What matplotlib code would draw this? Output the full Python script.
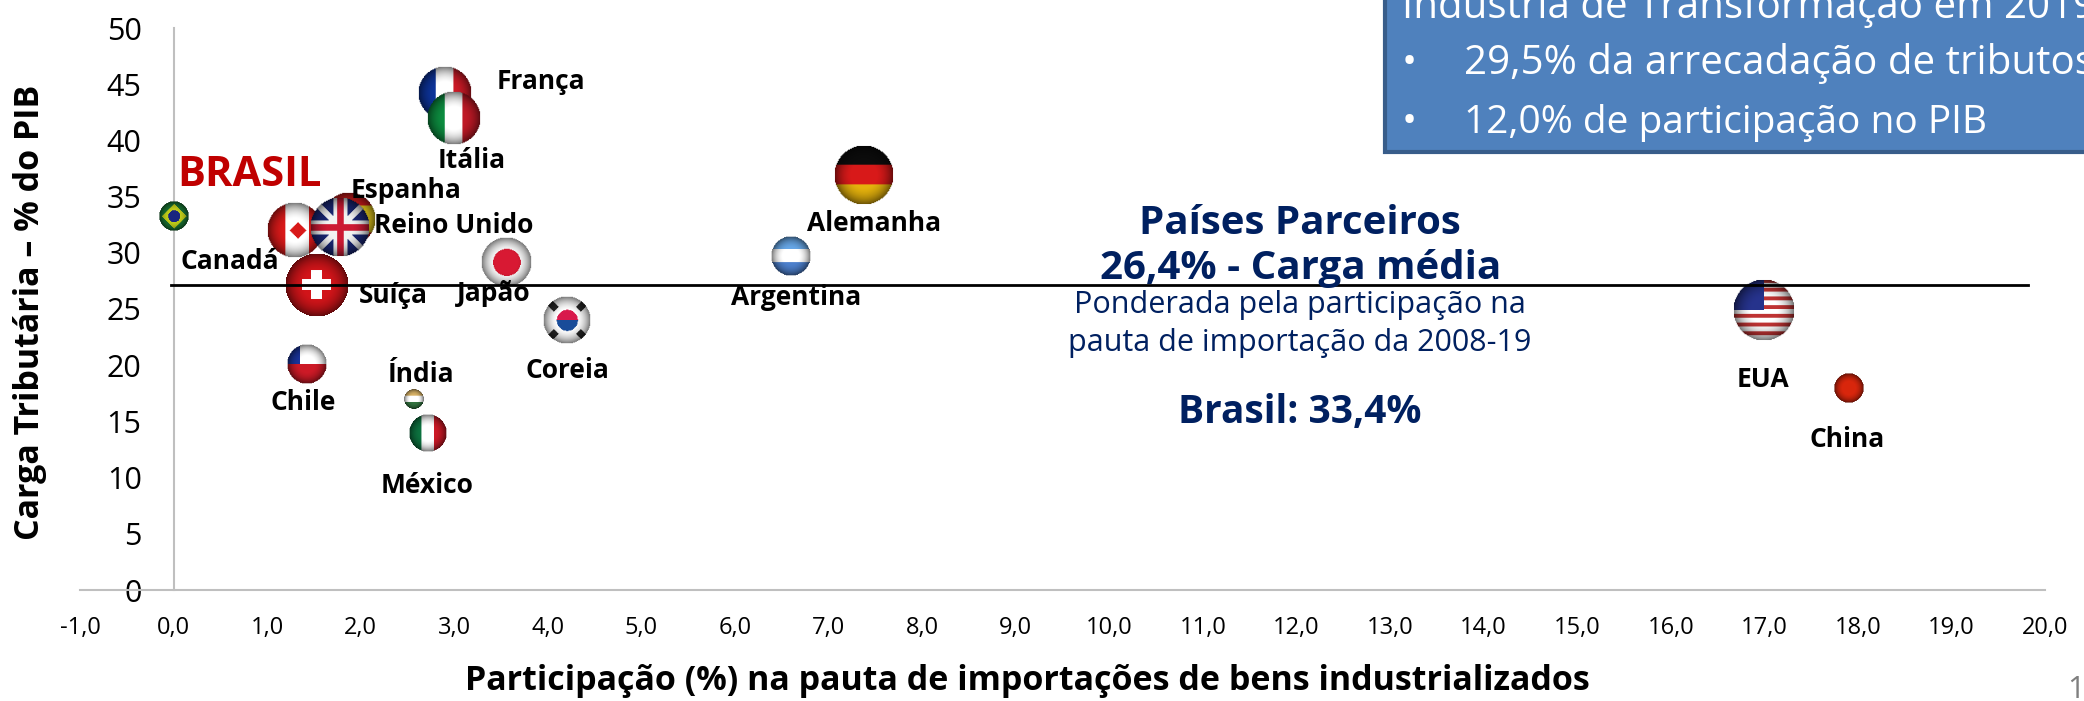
import numpy as np
import matplotlib
matplotlib.use('Agg')
import matplotlib.pyplot as plt
from matplotlib.offsetbox import OffsetImage, AnnotationBbox
from matplotlib.patches import Rectangle

FONT = 'Open Sans'
NAVY = '#002060'

countries = ['Brasil', 'França', 'Itália', 'Canadá', 'Espanha', 'Reino Unido', 'Suíça', 'Japão', 'Coreia',
             'Chile', 'Índia', 'México', 'Alemanha', 'Argentina', 'EUA', 'China']
share = [0.0, 2.9, 3.0, 1.3, 1.88, 1.78, 1.53, 3.55, 4.2, 1.43, 2.57, 2.72, 7.38, 6.6, 17.0, 17.9]
tax = [33.3, 44.2, 42.0, 32.0, 33.0, 32.3, 27.1, 29.2, 24.0, 20.1, 17.0, 14.0, 36.9, 29.7, 24.9, 18.0]
radius = [15, 27, 27, 28, 27, 30, 32, 25, 24, 20, 10, 19, 30, 20, 31, 15]
mean_line = 27.1

x_ticks = list(range(-1, 21))
y_ticks = list(range(0, 51, 5))

# label text, x and y in data units
labels = {
    'França': (3.93, 45.2), 'Itália': (3.19, 38.2), 'Espanha': (2.48, 35.5), 'Reino Unido': (2.99, 32.4),
    'Canadá': (0.6, 29.2), 'Suíça': (2.35, 26.2), 'Japão': (3.42, 26.4), 'Coreia': (4.21, 19.5),
    'Chile': (1.39, 16.7), 'Índia': (2.65, 19.2), 'México': (2.71, 9.3), 'Alemanha': (7.49, 32.6),
    'Argentina': (6.65, 26.0), 'EUA': (16.99, 18.7), 'China': (17.89, 13.4),
}


def flag(name, n=64):
    """small flag picture, shaded and cut to a circle"""
    img = np.ones((n, n, 3))
    t = n // 3
    if name == 'Brasil':
        img[:] = (0.1, 0.45, 0.2)
        yy, xx = np.mgrid[:n, :n]
        img[abs(xx - n / 2) + abs(yy - n / 2) < n * 0.42] = (0.75, 0.8, 0.1)
        img[(xx - n / 2) ** 2 + (yy - n / 2) ** 2 < (n * 0.2) ** 2] = (0.1, 0.15, 0.5)
    elif name == 'França':
        img[:, :t] = (0.05, 0.2, 0.6)
        img[:, 2 * t:] = (0.8, 0.1, 0.15)
    elif name == 'Itália':
        img[:, :t] = (0.05, 0.55, 0.25)
        img[:, 2 * t:] = (0.75, 0.1, 0.15)
    elif name == 'México':
        img[:, :t] = (0.05, 0.45, 0.25)
        img[:, 2 * t:] = (0.8, 0.1, 0.15)
    elif name == 'Canadá':
        img[:, :n // 3] = (0.85, 0.1, 0.1)
        img[:, 3 * n // 4:] = (0.85, 0.1, 0.1)
        yy, xx = np.mgrid[:n, :n]
        img[abs(xx - n * 0.55) + abs(yy - n / 2) < n * 0.15] = (0.85, 0.1, 0.1)
    elif name == 'Espanha':
        img[:] = (0.75, 0.1, 0.1)
        img[n // 4:3 * n // 4] = (0.85, 0.75, 0.1)
    elif name == 'Reino Unido':
        img[:] = (0.1, 0.15, 0.45)
        yy, xx = np.mgrid[:n, :n]
        img[(abs(xx - yy) < n * 0.07) | (abs(xx + yy - n) < n * 0.07)] = (0.95, 0.95, 0.95)
        img[(abs(xx - n / 2) < n * 0.12) | (abs(yy - n / 2) < n * 0.12)] = (0.95, 0.95, 0.95)
        img[(abs(xx - n / 2) < n * 0.06) | (abs(yy - n / 2) < n * 0.06)] = (0.8, 0.1, 0.2)
    elif name == 'Suíça':
        img[:] = (0.82, 0.08, 0.1)
        img[int(n * .28):int(n * .72), int(n * .42):int(n * .58)] = 1
        img[int(n * .42):int(n * .58), int(n * .28):int(n * .72)] = 1
    elif name == 'Japão':
        yy, xx = np.mgrid[:n, :n]
        img[(xx - n / 2) ** 2 + (yy - n / 2) ** 2 < (n * 0.27) ** 2] = (0.85, 0.1, 0.2)
    elif name == 'Coreia':
        yy, xx = np.mgrid[:n, :n]
        disc = (xx - n / 2) ** 2 + (yy - n / 2) ** 2 < (n * 0.22) ** 2
        img[disc & (yy < n / 2)] = (0.85, 0.1, 0.3)
        img[disc & (yy >= n / 2)] = (0.1, 0.3, 0.6)
        img[((abs(xx - yy) < n * 0.1) | (abs(xx + yy - n) < n * 0.1)) & ~disc
            & ((xx - n / 2) ** 2 + (yy - n / 2) ** 2 > (n * 0.33) ** 2)] = (0.15, 0.15, 0.15)
    elif name == 'Chile':
        img[n // 2:] = (0.8, 0.1, 0.15)
        img[:n // 2, :n // 3] = (0.1, 0.2, 0.6)
    elif name == 'Índia':
        img[:t] = (0.85, 0.7, 0.4)
        img[2 * t:] = (0.2, 0.45, 0.25)
    elif name == 'Alemanha':
        img[:t] = (0.05, 0.05, 0.05)
        img[t:2 * t] = (0.85, 0.1, 0.1)
        img[2 * t:] = (0.9, 0.7, 0.05)
    elif name == 'Argentina':
        img[:t] = (0.4, 0.65, 0.9)
        img[2 * t:] = (0.3, 0.5, 0.8)
    elif name == 'EUA':
        for i in range(0, n, n // 7):
            img[i:i + n // 14] = (0.75, 0.2, 0.2)
        img[:n // 2, :n // 2] = (0.15, 0.2, 0.55)
    elif name == 'China':
        img[:] = (0.85, 0.15, 0.05)
    yy, xx = np.mgrid[-1:1:n * 1j, -1:1:n * 1j]
    r2 = xx ** 2 + yy ** 2
    shade = np.clip(1.05 - 0.6 * r2 ** 1.5, 0, 1)
    rgba = np.dstack([img * shade[..., None], (r2 <= 1).astype(float)])
    return rgba


fig = plt.figure(figsize=(20.84, 7.01), dpi=100)
ax = fig.add_axes([80 / 2084, 1 - 590 / 701, (2045 - 80) / 2084, (590 - 28) / 701])
ax.set_xlim(-1, 20)
ax.set_ylim(0, 50)
for s in ['top', 'right']:
    ax.spines[s].set_visible(False)
ax.spines['left'].set_position(('data', 0))
ax.spines['left'].set_color('#BFBFBF')
ax.spines['bottom'].set_color('#BFBFBF')
ax.spines['left'].set_linewidth(1.5)
ax.spines['bottom'].set_linewidth(1.5)
ax.patch.set_alpha(0)

ax.set_xticks(x_ticks)
ax.set_xticklabels(['{:.1f}'.format(v).replace('.', ',') for v in x_ticks], fontsize=17, family=FONT)
ax.set_yticks(y_ticks)
ax.set_yticklabels([str(v) for v in y_ticks], fontsize=22, family=FONT)
ax.tick_params(axis='both', length=0)
ax.tick_params(axis='x', pad=19)
ax.tick_params(axis='y', pad=23)

ax.plot([-0.03, 19.82], [mean_line, mean_line], color='black', lw=2, zorder=4)

for name, x, y, r in zip(countries, share, tax, radius):
    # OffsetImage scales with dpi/72, so take that out to get r in pixels
    im = OffsetImage(flag(name), zoom=2 * r / 64 * 72 / 100, interpolation='bilinear')
    ax.add_artist(AnnotationBbox(im, (x, y), frameon=False, pad=0, zorder=3))

for name, (x, y) in labels.items():
    ax.text(x, y, name, ha='center', va='center', fontsize=19, fontweight='bold', family=FONT, color='black', zorder=5)
ax.text(0.04, 36.9, 'BRASIL', color='#C00000', fontsize=30, fontweight='bold', family=FONT, va='center', zorder=5)

ax.text(12.04, 32.6, 'Países Parceiros', ha='center', va='center', color=NAVY, fontsize=29, fontweight='bold', family=FONT, zorder=5)
ax.text(12.04, 28.6, '26,4% - Carga média', ha='center', va='center', color=NAVY, fontsize=29, fontweight='bold', family=FONT, zorder=5)
ax.text(12.04, 25.4, 'Ponderada pela participação na', ha='center', va='center', color=NAVY, fontsize=22, family=FONT, zorder=5)
ax.text(12.04, 22.0, 'pauta de importação da 2008-19', ha='center', va='center', color=NAVY, fontsize=22, family=FONT, zorder=5)
ax.text(12.04, 15.8, 'Brasil: 33,4%', ha='center', va='center', color=NAVY, fontsize=28, fontweight='bold', family=FONT, zorder=5)

fig.text(1027 / 2084, 1 - 681 / 701, 'Participação (%) na pauta de importações de bens industrializados',
         ha='center', va='center', fontsize=24.5, fontweight='bold', family=FONT)
fig.text(30 / 2084, 1 - 312 / 701, 'Carga Tributária – % do PIB', rotation=90,
         ha='center', va='center', fontsize=24.5, fontweight='bold', family=FONT)

# text box, runs off the top and right of the slide
fig.add_artist(Rectangle((1385 / 2084, 1 - 152 / 701), 800 / 2084, 170 / 701, transform=fig.transFigure,
                         facecolor='#4F81BD', edgecolor='#385D8A', lw=3))
fig.text(1402 / 2084, 1 - 7 / 701, 'Indústria de Transformação em 2019', color='white', fontsize=29, family=FONT, va='center')
fig.text(1402 / 2084, 1 - 64 / 701, '•', color='white', fontsize=29, family=FONT, va='center')
fig.text(1464 / 2084, 1 - 64 / 701, '29,5% da arrecadação de tributos', color='white', fontsize=29, family=FONT, va='center')
fig.text(1402 / 2084, 1 - 123 / 701, '•', color='white', fontsize=29, family=FONT, va='center')
fig.text(1464 / 2084, 1 - 123 / 701, '12,0% de participação no PIB', color='white', fontsize=28, family=FONT, va='center')

fig.text(2076 / 2084, 1 - 690 / 701, '1', color='#7F7F7F', fontsize=22, family=FONT, ha='center', va='center')

fig.savefig('out.png', dpi=100)
